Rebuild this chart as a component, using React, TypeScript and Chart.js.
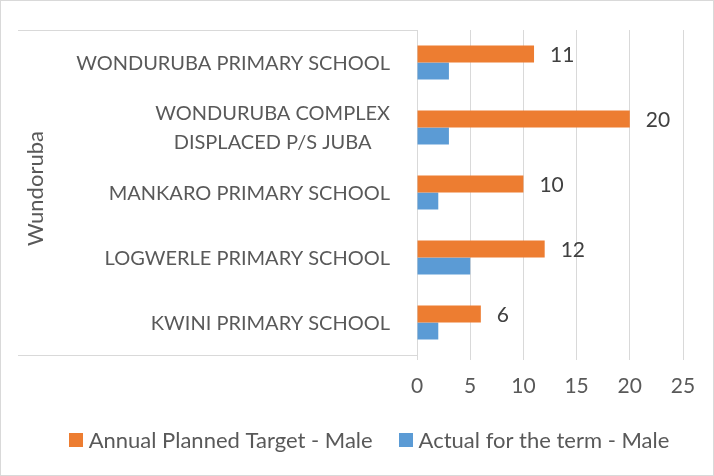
import React, { useEffect, useRef } from "react";
import { Chart, registerables } from "chart.js";

Chart.register(...registerables);

const categories: string[][] = [
  ["WONDURUBA PRIMARY SCHOOL"],
  ["WONDURUBA COMPLEX", "DISPLACED P/S JUBA"],
  ["MANKARO PRIMARY SCHOOL"],
  ["LOGWERLE PRIMARY SCHOOL"],
  ["KWINI PRIMARY SCHOOL"],
];
const groupLabel = "Wundoruba";
const seriesNames = ["Annual Planned Target - Male", "Actual for the term - Male"];
const plannedTarget = [11, 20, 10, 12, 6];
const actualTerm = [3, 3, 2, 5, 2];
const xMin = 0;
const xMax = 25;
const xStep = 5;

const FONT = "Lato";
const TEXT = "#595959";
const LABEL = "#404040";
const GRID = "#d9d9d9";
const ORANGE = "#ED7D31";
const BLUE = "#5B9BD5";

// layout constants (not data)
const LEGEND_CENTER_X = 369;
const LEGEND_Y = 440;
const GROUP_X = 36;

const decorPlugin = {
  id: "decor",
  beforeDraw(chart: any) {
    const ctx = chart.ctx;
    ctx.save();
    ctx.fillStyle = "#ffffff";
    ctx.fillRect(0, 0, chart.width, chart.height);
    ctx.restore();
  },
  afterDraw(chart: any) {
    const ctx = chart.ctx;
    const area = chart.chartArea;
    const ys = chart.scales.y;
    ctx.save();
    ctx.strokeStyle = GRID;
    ctx.lineWidth = 1;
    ctx.strokeRect(0.5, 0.5, chart.width - 1, chart.height - 1);
    const top = Math.round(area.top) + 0.5;
    const bot = Math.round(area.bottom) + 0.5;
    ctx.beginPath();
    ctx.moveTo(ys.left, top);
    ctx.lineTo(area.left, top);
    ctx.moveTo(ys.left, bot);
    ctx.lineTo(area.left + 1, bot);
    ctx.stroke();

    // group label (rotated)
    ctx.save();
    ctx.font = `22px ${FONT}`;
    ctx.fillStyle = TEXT;
    ctx.textAlign = "center";
    ctx.textBaseline = "middle";
    ctx.translate(GROUP_X, (area.top + area.bottom) / 2 - 4);
    ctx.rotate(-Math.PI / 2);
    ctx.fillText(groupLabel, 0, 0);
    ctx.restore();

    // category labels
    ctx.font = `20px ${FONT}`;
    ctx.fillStyle = TEXT;
    ctx.textBaseline = "middle";
    ctx.textAlign = "center";
    const right = area.left - 27;
    const lh = 29;
    categories.forEach((lines, i) => {
      const cy = ys.getPixelForValue(i);
      const maxW = Math.max(...lines.map((l) => ctx.measureText(l).width));
      lines.forEach((l, j) => {
        ctx.fillText(l, right - maxW / 2, cy + 1 + (j - (lines.length - 1) / 2) * lh);
      });
    });

    // data labels on planned target
    const meta = chart.getDatasetMeta(0);
    ctx.font = `21px ${FONT}`;
    ctx.fillStyle = LABEL;
    ctx.textAlign = "left";
    meta.data.forEach((bar: any, i: number) => {
      ctx.fillText(String(plannedTarget[i]), bar.x + 16, bar.y + 1);
    });

    // legend
    ctx.font = `22px ${FONT}`;
    ctx.textAlign = "left";
    ctx.textBaseline = "middle";
    const box = 14;
    const gapText = 6;
    const gapItem = 26;
    const ds = chart.data.datasets;
    const widths = ds.map((d: any) => ctx.measureText(d.label).width);
    let total = 0;
    widths.forEach((w: number, i: number) => {
      total += box + gapText + w + (i < widths.length - 1 ? gapItem : 0);
    });
    let x = LEGEND_CENTER_X - total / 2;
    ds.forEach((d: any, i: number) => {
      ctx.fillStyle = d.backgroundColor;
      ctx.fillRect(Math.round(x), LEGEND_Y - box / 2, box, box);
      ctx.fillStyle = TEXT;
      ctx.fillText(d.label, x + box + gapText, LEGEND_Y + 1);
      x += box + gapText + widths[i] + gapItem;
    });
    ctx.restore();
  },
};

export default function App() {
  const ref = useRef<HTMLCanvasElement | null>(null);
  useEffect(() => {
    if (!ref.current) return;
    const chart = new Chart(ref.current, {
      type: "bar",
      data: {
        labels: categories.map((c) => c.join(" ")),
        datasets: [
          {
            label: seriesNames[0],
            data: plannedTarget,
            backgroundColor: ORANGE,
            categoryPercentage: 0.523,
            barPercentage: 1,
          },
          {
            label: seriesNames[1],
            data: actualTerm,
            backgroundColor: BLUE,
            categoryPercentage: 0.523,
            barPercentage: 1,
          },
        ],
      },
      options: {
        indexAxis: "y",
        animation: false,
        responsive: false,
        devicePixelRatio: 1,
        layout: { padding: { top: 30, right: 31, left: 18, bottom: 79 } },
        scales: {
          x: {
            min: xMin,
            max: xMax,
            ticks: {
              stepSize: xStep,
              color: TEXT,
              font: { family: FONT, size: 21 },
              padding: 14,
            },
            grid: { color: GRID, tickLength: 5, drawTicks: true },
            border: { display: false },
            afterFit: (s: any) => {
              s.height = 42;
            },
          },
          y: {
            ticks: { display: false },
            grid: { display: false, drawTicks: false, tickLength: 0 },
            border: { display: true, color: GRID },
            afterFit: (s: any) => {
              s.width = 399;
            },
          },
        },
        plugins: {
          legend: { display: false },
          tooltip: { enabled: false },
        },
      },
      plugins: [decorPlugin],
    } as any);
    return () => chart.destroy();
  }, []);
  return (
    <div style={{ position: "fixed", left: 0, top: 0, width: 714, height: 476, background: "#fff" }}>
      <canvas ref={ref} width={714} height={476} style={{ width: 714, height: 476 }} />
    </div>
  );
}
